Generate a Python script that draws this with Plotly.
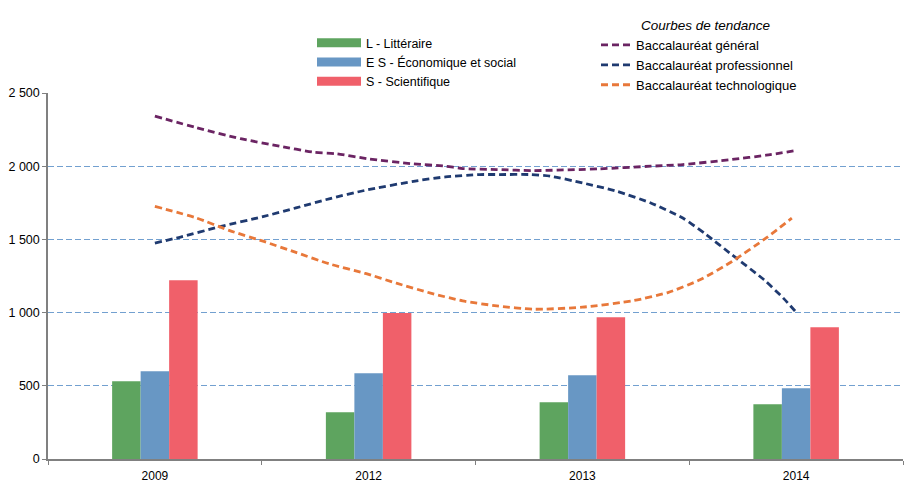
import plotly.graph_objects as go

years = ["2009", "2012", "2013", "2014"]
litteraire = [531, 320, 388, 374]
economique = [600, 585, 572, 483]
scientifique = [1221, 997, 968, 900]

# trend curves, sampled along the category axis (0 = 2009 ... 3 = 2014)
general_x = [0, 0.195, 0.40, 0.585, 0.74, 0.85, 1.0, 1.21, 1.36, 1.44, 1.60, 1.77, 2.08, 2.32, 2.47, 2.70, 2.86, 3.0]
general_y = [2342, 2263, 2188, 2137, 2096, 2085, 2050, 2016, 2000, 1984, 1977, 1970, 1982, 2000, 2011, 2046, 2075, 2107]
pro_x = [0, 0.12, 0.30, 0.51, 0.66, 0.82, 0.98, 1.21, 1.36, 1.52, 1.61, 1.755, 1.85, 2.0, 2.16, 2.32, 2.47, 2.58, 2.70, 2.85, 2.94, 3.0]
pro_y = [1475, 1516, 1585, 1657, 1715, 1779, 1834, 1897, 1927, 1943, 1943, 1943, 1932, 1886, 1829, 1749, 1646, 1532, 1395, 1224, 1099, 1003]
tech_x = [0, 0.195, 0.35, 0.51, 0.66, 0.82, 0.98, 1.13, 1.29, 1.44, 1.60, 1.77, 2.0, 2.24, 2.40, 2.55, 2.70, 2.86, 2.98]
tech_y = [1726, 1646, 1560, 1486, 1411, 1331, 1270, 1201, 1133, 1080, 1046, 1023, 1037, 1082, 1137, 1224, 1349, 1510, 1646]

bar_names = ["L - Littéraire", "E S - Économique et social", "S - Scientifique"]
bar_colors = ["#5EA45F", "#6897C4", "#F0606A"]
trend_names = ["Baccalauréat général", "Baccalauréat professionnel", "Baccalauréat technologique"]
trend_colors = ["#6B2463", "#1F3A70", "#E8783A"]

FONT = "Liberation Sans, Arial, sans-serif"
OFF = 8  # page body margin
W, H = 912 - OFF, 482 - OFF
L, T, PW, PH = 48 - OFF, 93 - OFF, 855, 366

def px(x):
    return (x - OFF - L) / PW

def py(y):
    return 1 - (y - OFF - T) / PH

fig = go.Figure()
for name, vals, col in zip(bar_names, [litteraire, economique, scientifique], bar_colors):
    fig.add_trace(go.Bar(x=years, y=vals, name=name, marker=dict(color=col, line=dict(width=0)),
                         showlegend=False, hoverinfo="y"))

for name, col in zip(bar_names, bar_colors):
    fig.add_trace(go.Scatter(x=[1.5], y=[-1000], mode="lines", name=name, xaxis="x2",
                             line=dict(color=col, width=9), legend="legend"))

for name, xs, ys, col in zip(trend_names, [general_x, pro_x, tech_x], [general_y, pro_y, tech_y], trend_colors):
    fig.add_trace(go.Scatter(x=xs, y=ys, mode="lines", name=name, xaxis="x2",
                             line=dict(color=col, width=2.8, dash="7px,4px", shape="spline", smoothing=0.6),
                             legend="legend2"))

fig.update_layout(
    width=W, height=H,
    margin=dict(l=L, r=W - L - PW, t=T, b=H - T - PH, autoexpand=False),
    paper_bgcolor="white", plot_bgcolor="white",
    font=dict(family=FONT, size=12, color="#000000"),
    separators=", ",
    barmode="group", bargap=0.6, bargroupgap=0,
    xaxis=dict(type="category", tickson="boundaries", ticks="outside", ticklen=4,
               tickcolor="#808080", showline=True, linecolor="#808080", linewidth=1.5,
               showgrid=False, tickfont=dict(size=12), range=[-0.5, 3.5], ticklabelstandoff=5),
    xaxis2=dict(overlaying="x", range=[-0.5, 3.5], visible=False, type="linear"),
    yaxis=dict(range=[0, 2500], tickvals=[0, 500, 1000, 1500, 2000, 2500], tickformat=",",
               ticks="outside", ticklen=4, tickcolor="#808080", showline=True,
               linecolor="#808080", linewidth=1.5, showgrid=True, gridcolor="#72A0D0",
               griddash="6px,3px", gridwidth=1, zeroline=False, tickfont=dict(size=12.5)),
    legend=dict(x=px(312), y=py(28), xanchor="left", yanchor="top", bgcolor="rgba(0,0,0,0)",
                font=dict(size=12.5, family=FONT), itemwidth=44, tracegroupgap=0),
    legend2=dict(x=px(596), y=py(30), xanchor="left", yanchor="top", bgcolor="rgba(0,0,0,0)",
                 font=dict(size=13, family=FONT), itemwidth=30, tracegroupgap=0),
    annotations=[dict(text="<i>Courbes de tendance</i>", xref="paper", yref="paper",
                      x=px(639), y=py(25), xanchor="left", yanchor="middle",
                      showarrow=False, font=dict(size=13.5, family=FONT))],
)

fig.write_html("out.html")
